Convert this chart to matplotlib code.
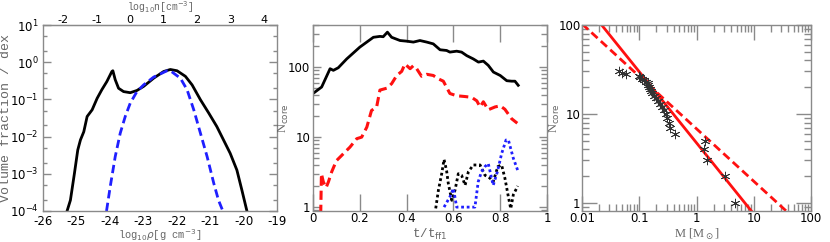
import matplotlib
matplotlib.use("Agg")
import matplotlib.pyplot as plt
import numpy as np
from matplotlib.ticker import LogLocator, NullFormatter, FixedLocator

# ---------------- Panel 1: volume-weighted density PDF ----------------
pdf_logrho = [-25.28, -25.18, -25.06, -24.96, -24.88, -24.78, -24.68, -24.53, -24.38,
              -24.24, -24.09, -23.94, -23.91, -23.84, -23.74, -23.59, -23.39, -23.19,
              -22.99, -22.69, -22.39, -22.19, -21.99, -21.74, -21.54, -21.29, -21.04,
              -20.80, -20.60, -20.40, -20.20, -20.05, -19.90]
pdf_logval = [-4.0, -3.71, -2.99, -2.36, -2.09, -1.87, -1.46, -1.28, -0.97,
              -0.74, -0.52, -0.25, -0.23, -0.47, -0.70, -0.79, -0.82, -0.76,
              -0.65, -0.43, -0.25, -0.196, -0.23, -0.38, -0.61, -1.01, -1.37,
              -1.73, -2.09, -2.45, -2.90, -3.44, -4.0]
lgn_logrho = [-24.10, -23.99, -23.84, -23.69, -23.54, -23.39, -23.19, -22.99, -22.69,
              -22.29, -22.19, -21.89, -21.69, -21.49, -21.29, -21.09, -20.89, -20.75, -20.62]
lgn_logval = [-4.0, -3.35, -2.54, -1.91, -1.46, -1.10, -0.79, -0.61, -0.40,
              -0.23, -0.23, -0.43, -0.74, -1.28, -1.91, -2.54, -3.26, -3.71, -4.0]
rho_ticks = [-26, -25, -24, -23, -22, -21, -20, -19]
n_ticks = [-2, -1, 0, 1, 2, 3, 4]
n_offset = 23.4

# ---------------- Panel 2: number of cores vs time ----------------
t_all = [0.0, 0.037, 0.073, 0.087, 0.108, 0.144, 0.20, 0.258, 0.286, 0.30, 0.318,
         0.336, 0.372, 0.40, 0.429, 0.457, 0.486, 0.514, 0.543, 0.571, 0.585, 0.614,
         0.635, 0.657, 0.685, 0.707, 0.728, 0.749, 0.771, 0.80, 0.828, 0.849, 0.863, 0.877]
n_all = [42, 52, 95, 90, 98, 131, 193, 267, 275, 272, 316,
         267, 240, 235, 228, 240, 228, 215, 177, 173, 164, 169,
         164, 146, 131, 118, 122, 106, 85, 76, 64, 63, 63, 55]
t_red = [0.033, 0.036, 0.044, 0.056, 0.066, 0.08, 0.10, 0.13, 0.158, 0.187, 0.208,
         0.23, 0.25, 0.272, 0.286, 0.315, 0.336, 0.358, 0.379, 0.393, 0.415, 0.429,
         0.443, 0.464, 0.486, 0.514, 0.536, 0.557, 0.585, 0.614, 0.65, 0.678, 0.70,
         0.714, 0.728, 0.749, 0.778, 0.80, 0.82, 0.849, 0.873]
n_red = [0.8, 3.0, 2.3, 1.9, 2.3, 3.2, 4.6, 5.8, 7.2, 9.5, 10,
         13.9, 24, 27, 47, 50, 58, 76, 87, 111, 95, 105,
         95, 74, 79, 76, 68, 63, 42, 39, 38, 37, 33,
         27, 32, 24.6, 27, 28, 25, 18.3, 15.8]
t_kdot = [0.521, 0.536, 0.55, 0.56, 0.571, 0.578, 0.593, 0.607, 0.621, 0.635, 0.65,
          0.664, 0.685, 0.714, 0.735, 0.756, 0.77, 0.79, 0.806, 0.82, 0.835, 0.845,
          0.856, 0.875]
n_kdot = [0.8, 1.75, 3.0, 4.8, 3.3, 2.2, 1.25, 1.75, 3.0, 2.85, 2.05,
          3.2, 4.0, 4.0, 2.85, 2.6, 2.3, 3.8, 4.0, 2.6, 1.4, 0.95,
          1.5, 2.0]
t_bdot = [0.56, 0.585, 0.6, 0.614, 0.692, 0.706, 0.72, 0.735, 0.749, 0.77, 0.788,
          0.806, 0.825, 0.835, 0.856, 0.877]
n_bdot = [1.0, 1.4, 1.85, 1.0, 1.0, 2.3, 3.2, 3.8, 4.2, 2.05, 3.2,
          5.8, 9.1, 9.1, 5.0, 3.2]
t_ticks = [0, 0.2, 0.4, 0.6, 0.8, 1]
t_ticklabels = ["0", "0.2", "0.4", "0.6", "0.8", "1"]

# ---------------- Panel 3: cumulative core mass function ----------------
core_mass = [4.7, 3.1, 1.5, 1.36, 1.4, 0.42, 0.35, 0.33, 0.31, 0.29, 0.27, 0.25, 0.23,
             0.215, 0.20, 0.18, 0.165, 0.16, 0.155, 0.15, 0.145, 0.14, 0.13, 0.12,
             0.11, 0.105, 0.10, 0.058, 0.05, 0.044]
core_n = list(range(1, 31))
fit_solid_M = [0.01, 100]
fit_solid_N = [188, 0.119]
fit_dash_M = [0.01, 100]
fit_dash_N = [103, 0.45]
m_ticks = [0.01, 0.1, 1, 10, 100]
m_ticklabels = ["0.01", "0.1", "1", "10", "100"]

# ---------------- Figure ----------------
W, H = 830, 242
fig = plt.figure(figsize=(W / 100, H / 100), dpi=100)
spine_col = "#8a8a8a"
lab_col = "#666666"
mono = ["Liberation Mono", "DejaVu Sans Mono"]
serif = ["Liberation Serif", "DejaVu Serif"]
tickfs = 8.5
labfs = 8
xlab_y = -0.088


def ax_rect(x0, x1, y0, y1):
    return [x0 / W, 1 - y1 / H, (x1 - x0) / W, (y1 - y0) / H]


def style(ax):
    for s in ax.spines.values():
        s.set_color(spine_col)
        s.set_linewidth(1.0)
    ax.tick_params(which="both", direction="in", colors=spine_col, labelcolor="black",
                   labelsize=tickfs, top=True, right=True)


# Panel 1
ax1 = fig.add_axes(ax_rect(43, 277, 25, 211))
ax1.plot(pdf_logrho, np.power(10.0, pdf_logval), color="black", lw=2.0)
ax1.plot(lgn_logrho, np.power(10.0, lgn_logval), color="#1f1fff", lw=2.0, ls=(0, (3, 1.6)))
ax1.set_yscale("log")
ax1.set_xlim(-26, -19)
ax1.set_ylim(1e-4, 10)
style(ax1)
ax1.set_xticks(rho_ticks)
ax1.set_xticklabels([str(v) for v in rho_ticks])
ax1.tick_params(axis="x", which="both", length=0, top=False, pad=3)
ax1.yaxis.set_major_locator(LogLocator(base=10, numticks=10))
ax1.yaxis.set_minor_locator(LogLocator(base=10, subs=(2.0, 5.0), numticks=10))
ax1.yaxis.set_minor_formatter(NullFormatter())
ax1.tick_params(axis="y", which="major", length=6, width=1, pad=3)
ax1.tick_params(axis="y", which="minor", length=3, width=1)
ax1.set_xlabel(r"log$_{10}\rho$[g cm$^{-3}$]", family=mono, fontsize=7.5,
               color=lab_col)
ax1.xaxis.set_label_coords(0.5, xlab_y)
ax1.set_ylabel("Volume fraction / dex", family=mono, fontsize=9.5, color=lab_col)
ax1.yaxis.set_label_coords(-43 / 234 + 0.0, 0.5)
ax1.yaxis.label.set_verticalalignment("top")
secx = ax1.secondary_xaxis("top", functions=(lambda x: x + n_offset, lambda x: x - n_offset))
secx.set_xticks(n_ticks)
secx.set_xticklabels([str(v) for v in n_ticks])
secx.tick_params(length=0, labelsize=8, pad=0)
secx.spines["top"].set_color(spine_col)
ax1.text(0.5, 1.0 + 10 / 186, r"log$_{10}$n[cm$^{-3}$]", transform=ax1.transAxes,
         ha="center", va="bottom", family=mono, fontsize=7, color=lab_col)

# Panel 2
ax2 = fig.add_axes(ax_rect(313, 547, 25, 211))
ax2.plot(t_all, n_all, color="black", lw=2.0)
ax2.plot(t_red, n_red, color="#ff1010", lw=2.2, ls=(0, (3, 1.6)))
ax2.plot(t_kdot, n_kdot, color="black", lw=2.0, ls=(0, (1, 1)))
ax2.plot(t_bdot, n_bdot, color="#1f1fff", lw=2.0, ls=(0, (1, 1)))
ax2.set_yscale("log")
ax2.set_xlim(0, 1)
ax2.set_ylim(0.88, 400)
style(ax2)
ax2.set_xticks(t_ticks)
ax2.set_xticklabels(t_ticklabels)
ax2.tick_params(axis="x", which="major", length=12, width=1, pad=1)
ax2.yaxis.set_major_locator(FixedLocator([1, 10, 100]))
ax2.set_yticklabels(["1", "10", "100"])
ax2.yaxis.set_minor_locator(LogLocator(base=10, subs=np.arange(2, 10), numticks=10))
ax2.yaxis.set_minor_formatter(NullFormatter())
ax2.tick_params(axis="y", which="major", length=6, width=1, pad=2)
ax2.tick_params(axis="y", which="minor", length=4, width=1)
ax2.set_xlabel(r"t/t$_{\rm ff1}$", family=mono, fontsize=labfs + 1, color=lab_col)
ax2.xaxis.set_label_coords(0.5, xlab_y)
ax2.set_ylabel(r"N$_{\rm core}$", family=serif, fontsize=labfs + 1, color=lab_col)
ax2.yaxis.set_label_coords(-22 / 234, 0.5)

# Panel 3
ax3 = fig.add_axes(ax_rect(582, 811, 25, 211))
ax3.plot(fit_solid_M, fit_solid_N, color="#ff1010", lw=2.0)
ax3.plot(fit_dash_M, fit_dash_N, color="#ff1010", lw=2.0, ls=(0, (3, 1.6)))
ax3.scatter(core_mass, core_n, marker=(6, 2, 0), s=40, color="#333333", linewidths=0.6,
            zorder=3)
ax3.set_xscale("log")
ax3.set_yscale("log")
ax3.set_xlim(0.01, 100)
ax3.set_ylim(0.81, 100)
style(ax3)
ax3.set_xticks(m_ticks)
ax3.set_xticklabels(m_ticklabels)
ax3.xaxis.set_minor_locator(LogLocator(base=10, subs=np.arange(2, 10), numticks=10))
ax3.xaxis.set_minor_formatter(NullFormatter())
ax3.yaxis.set_major_locator(FixedLocator([1, 10, 100]))
ax3.set_yticklabels(["1", "10", "100"])
ax3.yaxis.set_minor_locator(LogLocator(base=10, subs=np.arange(2, 10), numticks=10))
ax3.yaxis.set_minor_formatter(NullFormatter())
ax3.tick_params(which="major", length=11, width=1, pad=1)
ax3.tick_params(which="minor", length=5, width=1)
ax3.set_xlabel(r"M [M$_\odot$]", family=serif, fontsize=labfs + 1, color=lab_col)
ax3.xaxis.set_label_coords(0.5, xlab_y)
ax3.set_ylabel(r"N$_{\rm core}$", family=serif, fontsize=labfs + 1, color=lab_col)
ax3.yaxis.set_label_coords(-20 / 229, 0.5)

fig.savefig("out.png", dpi=100)
